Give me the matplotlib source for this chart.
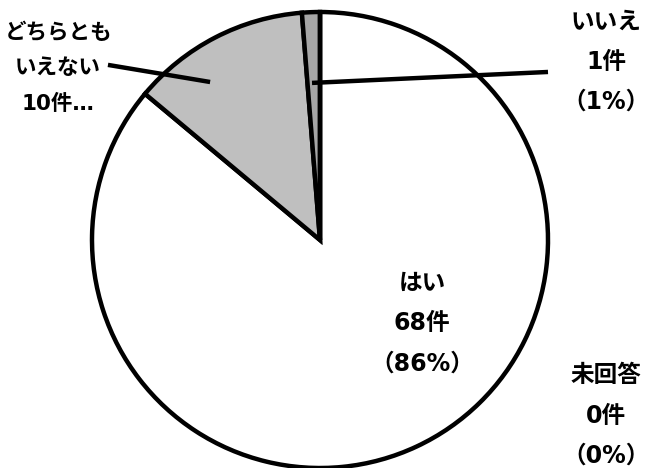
import matplotlib
matplotlib.use("Agg")
import matplotlib.pyplot as plt

plt.rcParams['font.family'] = ['DejaVu Sans', 'Noto Sans CJK JP']

# data (clockwise from 12 o'clock)
categories = ["はい", "どちらとも\nいえない", "いいえ", "未回答"]
counts = [68, 10, 1, 0]
colors = ["#ffffff", "#bfbfbf", "#a6a6a6", "#8c8c8c"]


def main():
    total = sum(counts)
    pct = [round(c / total * 100) for c in counts]

    fig = plt.figure(figsize=(6.5, 4.68), dpi=100)
    ax = fig.add_axes([0, 0, 1, 1])

    ax.pie(counts, colors=colors, startangle=90, counterclock=False,
           radius=1, center=(0, 0),
           wedgeprops=dict(edgecolor="black", linewidth=3.2))

    # pixel layout: centre (320, 240), radius 228 px
    ax.set_xlim(-320 / 228, 330 / 228)
    ax.set_ylim(-228 / 228, 240 / 228)
    ax.set_aspect("equal")
    ax.axis("off")

    fs = 17
    kw = dict(ha="center", va="center", fontsize=fs, fontweight="bold",
              linespacing=1.85)

    ax.text(0.447, -0.364, "%s\n%d件\n（%d%%）" % (categories[0], counts[0], pct[0]), **kw)
    ax.text(-1.148, 0.754, "%s\n%d件…" % (categories[1], counts[1]),
            **dict(kw, fontsize=15.5, linespacing=1.95))
    ax.text(1.254, 0.781, "%s\n%d件\n（%d%%）" % (categories[2], counts[2], pct[2]), **kw)
    ax.text(1.254, -0.77, "%s\n%d件\n（%d%%）" % (categories[3], counts[3], pct[3]), **kw)

    # leader lines
    ax.plot([-0.035, 1.0], [0.689, 0.737], color="black", lw=3.2, solid_capstyle="butt")
    ax.plot([-0.930, -0.482], [0.768, 0.693], color="black", lw=3.2, solid_capstyle="butt")

    fig.savefig("out.png", dpi=100)


if __name__ == '__main__':
    main()
